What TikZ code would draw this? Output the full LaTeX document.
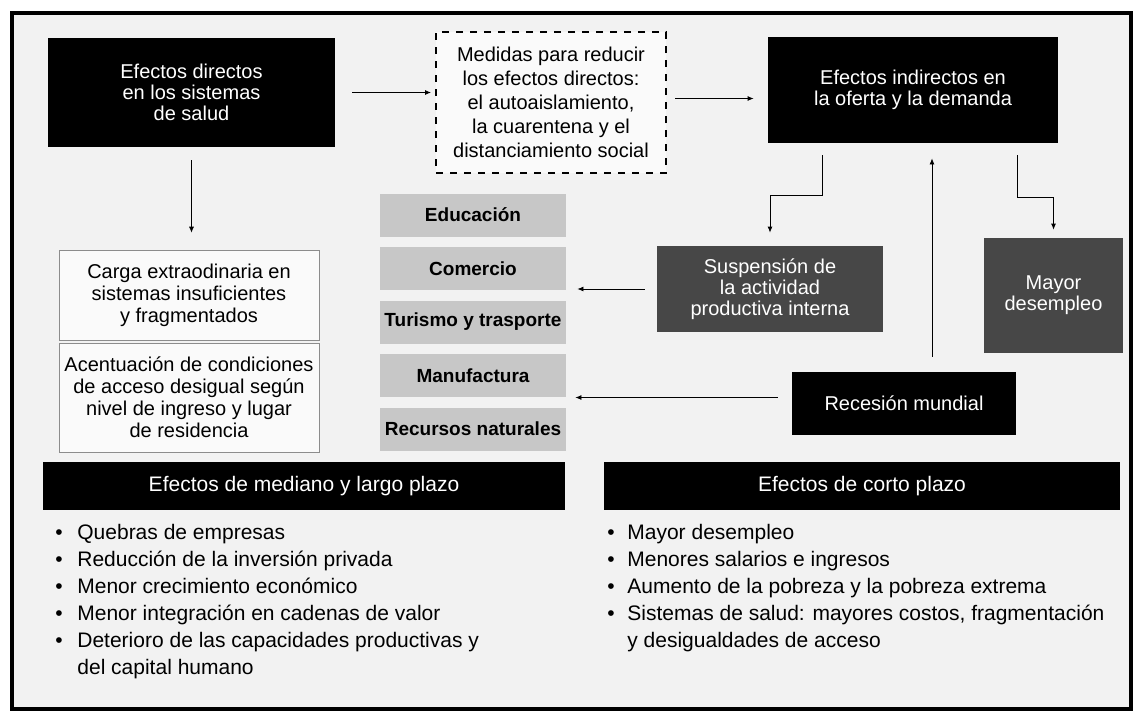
\documentclass[tikz,border=0pt]{standalone}
\usepackage{fontspec}
\setmainfont{Liberation Sans}
\usetikzlibrary{positioning, arrows.meta}

\begin{document}
\begin{tikzpicture}[
    x=1pt, y=-1pt,
    thick,
    >={Latex[length=6pt,width=5pt]},
    negra/.style={fill=black, text=white, align=center, inner sep=0pt, font=\fontsize{20}{21}\selectfont},
    oscura/.style={fill=black!72, text=white, align=center, inner sep=0pt, font=\fontsize{20}{21}\selectfont},
    sector/.style={fill=black!22, minimum width=186pt, minimum height=43pt, inner sep=0pt, font=\bfseries\fontsize{19}{21}\selectfont},
    marco/.style={draw=black!45, line width=0.6pt, fill=black!2, align=center, minimum width=260pt, inner sep=0pt, font=\fontsize{20}{22}\selectfont},
    banda/.style={fill=black, text=white, minimum height=48pt, inner sep=0pt, font=\fontsize{21}{24}\selectfont},
    lista/.style={anchor=north west, align=left, inner sep=0pt, font=\fontsize{21}{27}\selectfont}
]
    \useasboundingbox (0,0) rectangle (1134,721);
    \draw[line width=4pt, fill=black!5] (12,13) rectangle (1131,709);

    % Fila superior
    \node[negra, minimum width=287pt, minimum height=109pt] (efdir) at (191.5,92.5) {Efectos directos\\en los sistemas\\de salud};
    \node[draw, dash pattern=on 7pt off 7pt, line width=2pt, fill=black!2, minimum width=230pt, minimum height=141pt,
          align=center, inner sep=0pt, font=\fontsize{20}{24}\selectfont] (medidas) at (551,102.5)
          {Medidas para reducir\\los efectos directos:\\el autoaislamiento,\\la cuarentena y el\\distanciamiento social};
    \node[negra, minimum width=290pt, minimum height=106pt] (efind) at (913,90) {Efectos indirectos en\\la oferta y la demanda};

    % Sistemas de salud
    \node[marco, minimum height=90pt] (carga) at (189,295) {Carga extraodinaria en\\sistemas insuficientes\\y fragmentados};
    \node[marco, minimum height=109pt] (acent) at (189,397.5) {Acentuación de condiciones\\de acceso desigual según\\nivel de ingreso y lugar\\de residencia};

    % Sectores
    \node[sector] (s1) at (473,215) {Educación};
    \node[sector] (s2) at (473,268.5) {Comercio};
    \node[sector] (s3) at (473,322) {Turismo y trasporte};
    \node[sector] (s4) at (473,375.5) {Manufactura};
    \node[sector] (s5) at (473,429) {Recursos naturales};

    % Efectos indirectos
    \node[oscura, minimum width=226pt, minimum height=86pt] (susp) at (770,289) {Suspensión de\\la actividad\\productiva interna};
    \node[oscura, minimum width=139pt, minimum height=115pt] (desemp) at (1053.5,295.5) {Mayor\\desempleo};
    \node[negra, minimum width=224pt, minimum height=63pt] (recesion) at (904,403.5) {Recesión mundial};

    % Bandas y listas
    \node[banda, minimum width=522pt] (bmed) at (304,486) {Efectos de mediano y largo plazo};
    \node[banda, minimum width=516pt] (bcorto) at (862,486) {Efectos de corto plazo};

    \node[lista] (lmed) at (55,524) {\makebox[22pt][l]{•}Quebras de empresas\\
        \makebox[22pt][l]{•}Reducción de la inversión privada\\
        \makebox[22pt][l]{•}Menor crecimiento económico\\
        \makebox[22pt][l]{•}Menor integración en cadenas de valor\\
        \makebox[22pt][l]{•}Deterioro de las capacidades productivas y\\
        \hspace*{22pt}del capital humano};
    \node[lista] (lcorto) at (607,524) {\makebox[20pt][l]{•}Mayor desempleo\\
        \makebox[20pt][l]{•}Menores salarios e ingresos\\
        \makebox[20pt][l]{•}Aumento de la pobreza y la pobreza extrema\\
        \makebox[20pt][l]{•}Sistemas de salud: mayores costos, fragmentación\\
        \hspace*{20pt}y desigualdades de acceso};

    % Flechas
    \draw[->, shorten <=17pt, shorten >=4pt] (efdir.east) -- (efdir.east -| medidas.west);
    \draw[->, shorten <=8pt, shorten >=14pt] ([yshift=4pt]medidas.east) -- ([yshift=4pt]medidas.east -| efind.west);
    \draw[->, shorten <=13pt, shorten >=17pt] (efdir.south) -- (efdir.south |- carga.north);

    \draw[->, shorten <=12pt, shorten >=13pt] ([xshift=-91pt]efind.south) -- ++(0,52) -| (susp.north);
    \draw[->, shorten <=12pt, shorten >=8pt] ([xshift=104pt]efind.south) -- ++(0,54) -| (desemp.north);
    \draw[->, shorten <=15pt, shorten >=15pt] ([xshift=28pt]recesion.north) -- ([xshift=28pt]recesion.north |- efind.south);

    \draw[->, shorten <=12pt, shorten >=11pt] (susp.west) -- (susp.west -| s2.east);
    \draw[->, shorten <=14pt, shorten >=9pt] ([yshift=6pt]recesion.west) -- ([yshift=6pt]recesion.west -| s4.east);

\end{tikzpicture}
\end{document}
